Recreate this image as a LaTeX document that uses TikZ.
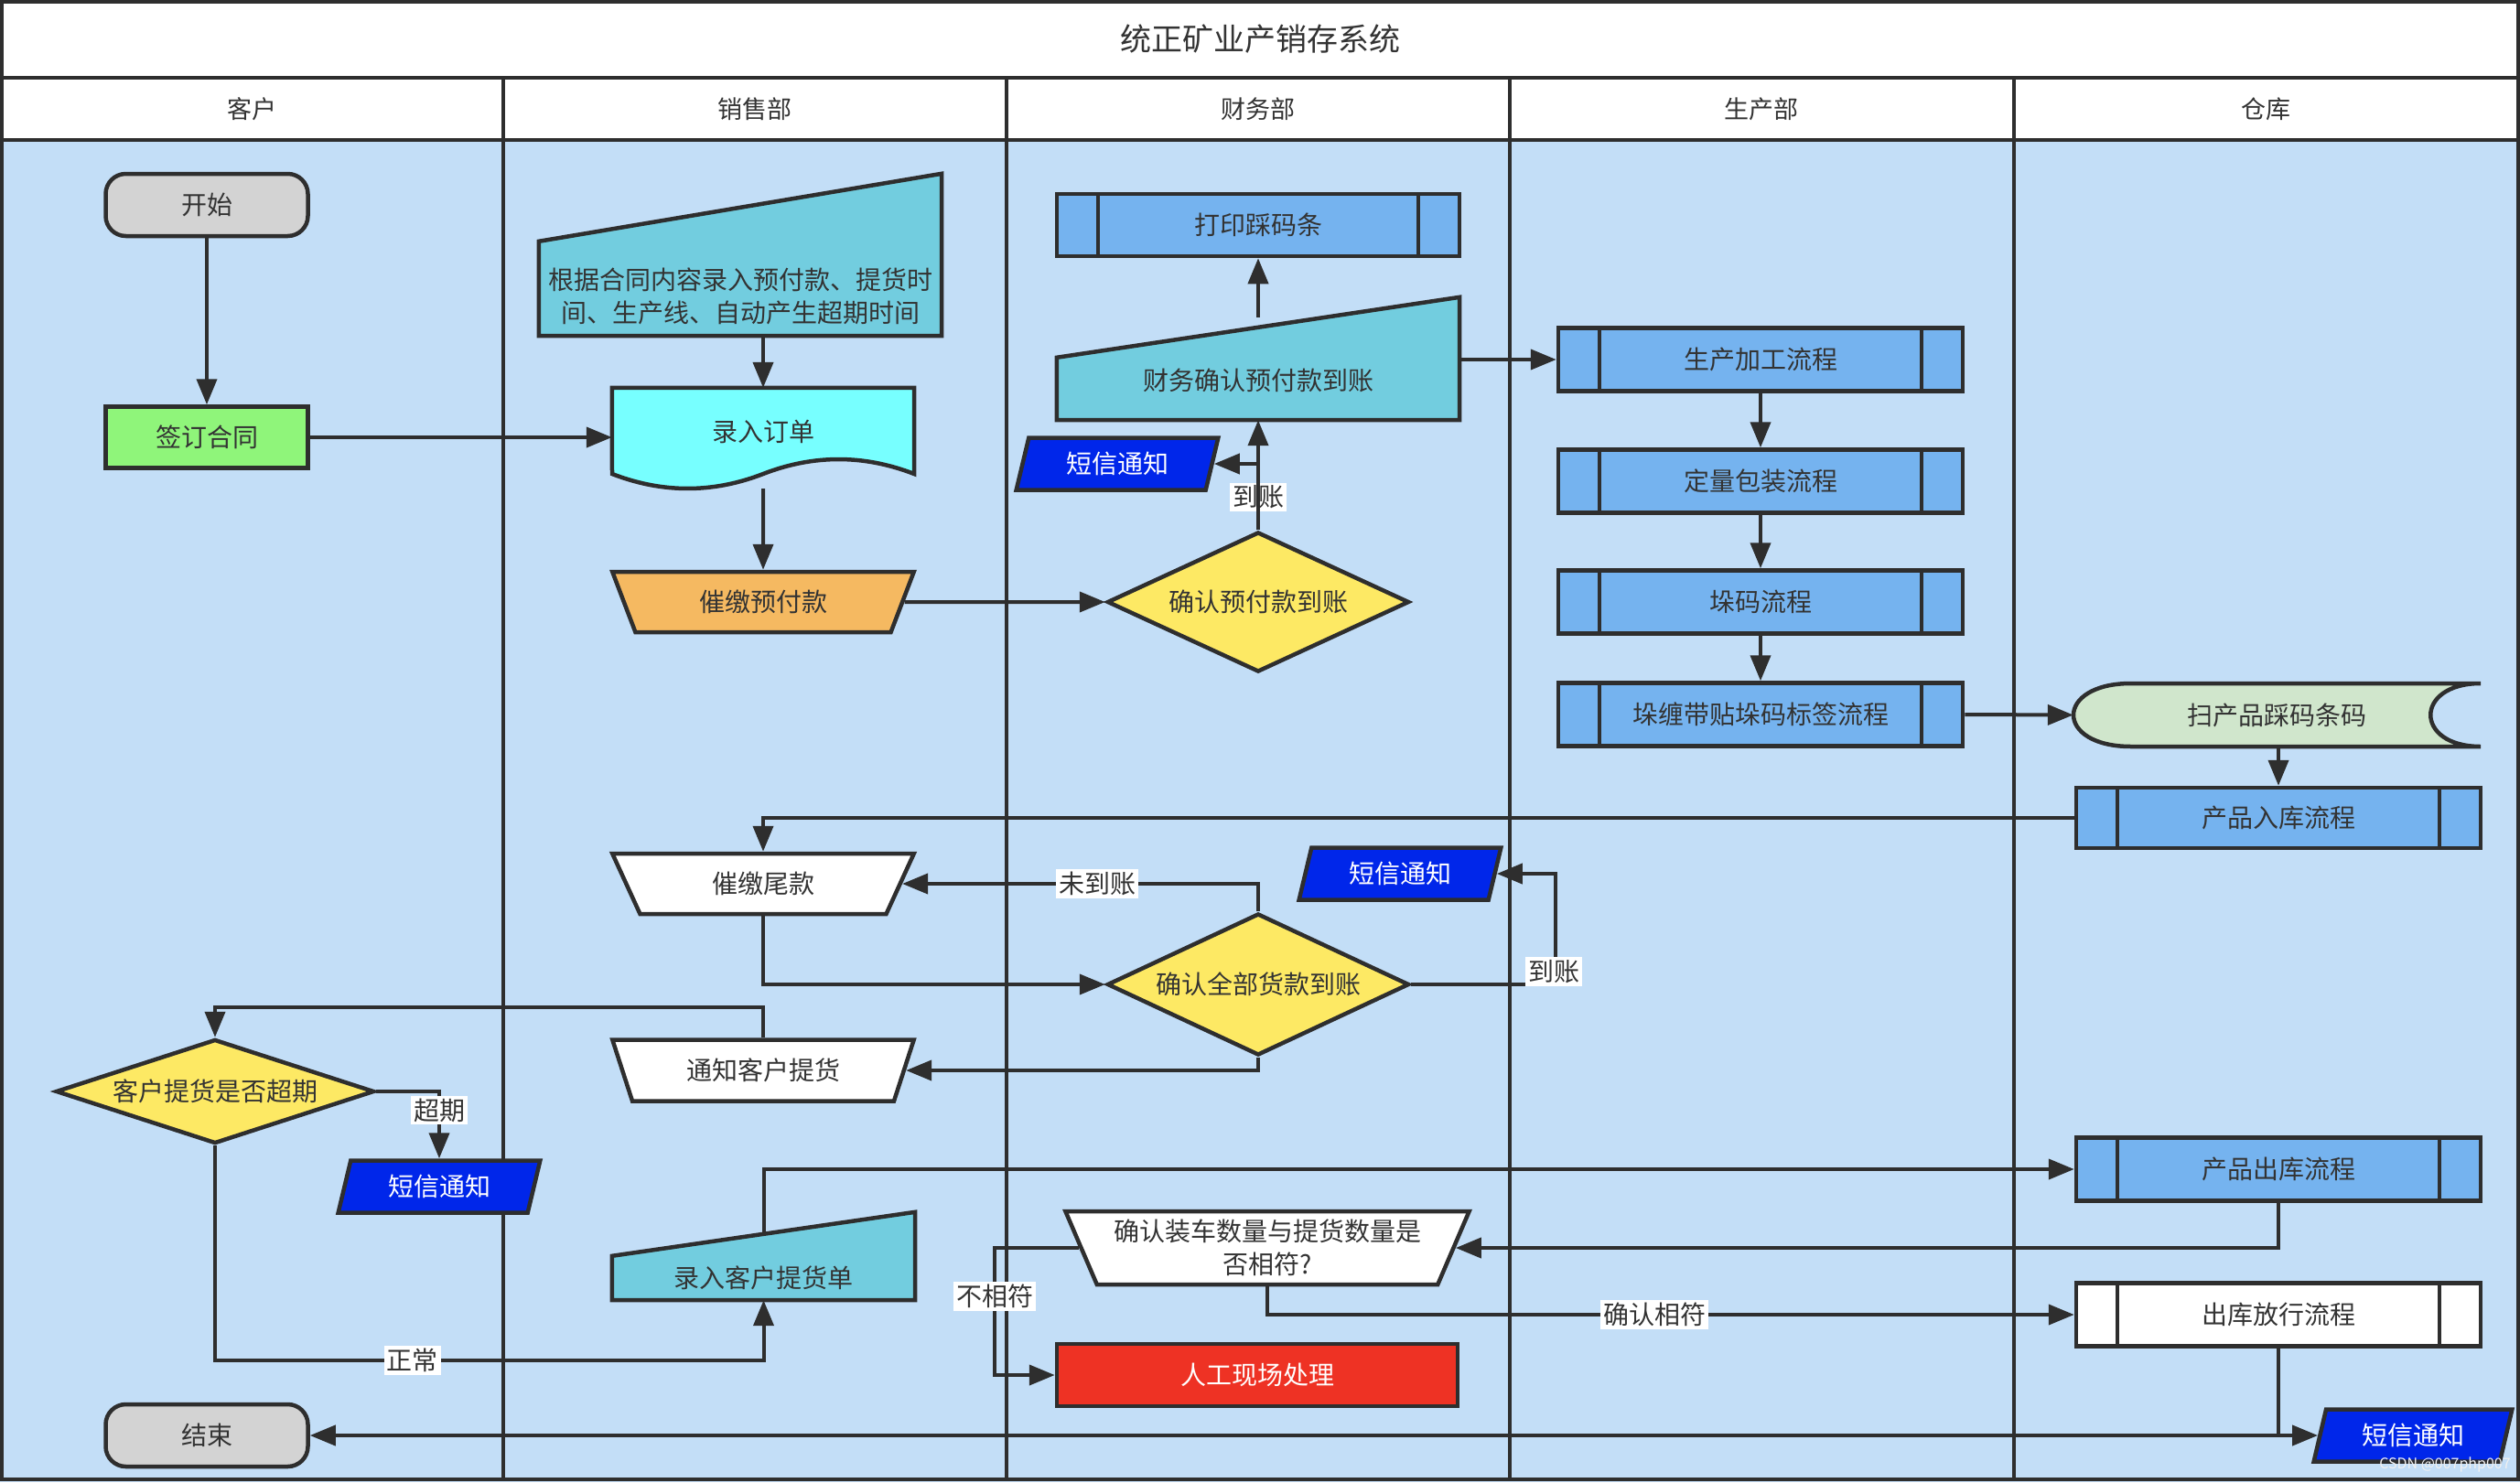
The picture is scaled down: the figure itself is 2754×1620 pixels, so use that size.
\documentclass[tikz,border=0pt]{standalone}
\usepackage{fontspec}
\setmainfont{Noto Sans CJK SC}
\usetikzlibrary{arrows.meta,shapes.geometric,calc}
\definecolor{lanebg}{HTML}{C3DEF7}
\definecolor{linec}{HTML}{2E2E2E}
\definecolor{txt}{HTML}{333333}
\definecolor{gray1}{HTML}{D3D3D3}
\definecolor{green1}{HTML}{8FF57A}
\definecolor{teal1}{HTML}{72CDDF}
\definecolor{cyan1}{HTML}{77FFFF}
\definecolor{orange1}{HTML}{F5B961}
\definecolor{blue1}{HTML}{75B3EF}
\definecolor{yellow1}{HTML}{FDE964}
\definecolor{smsblue}{HTML}{0026EA}
\definecolor{red1}{HTML}{EE3224}
\definecolor{store}{HTML}{D0E6CC}
\pgfdeclarelayer{bg}
\pgfdeclarelayer{shp}
\pgfsetlayers{bg,shp,main}
\begin{document}
\begin{tikzpicture}[x=1pt,y=-1pt,
  every node/.style={font=\fontsize{28}{36}\selectfont, text=txt, inner sep=0pt},
  base/.style={draw=linec, line width=4.5pt},
  term/.style={base, fill=gray1, rounded corners=22pt, minimum width=221pt, minimum height=68pt},
  proc/.style={base, minimum width=221pt, minimum height=67pt},
  pre/.style={base, fill=blue1, minimum width=442pt, minimum height=69pt,
    path picture={\draw[draw=linec, line width=4.5pt]
      ([xshift=45pt]path picture bounding box.north west) -- ([xshift=45pt]path picture bounding box.south west)
      ([xshift=-45pt]path picture bounding box.north east) -- ([xshift=-45pt]path picture bounding box.south east);}},
  dec/.style={base, diamond, fill=yellow1},
  trap/.style={base, trapezium, trapezium stretches=true, shape border rotate=180,
    trapezium left angle=64, trapezium right angle=64, minimum width=330pt, minimum height=66pt, fill=white},
  para/.style={base, trapezium, trapezium stretches=true, trapezium left angle=73, trapezium right angle=107,
    fill=smsblue, text=white, minimum width=221pt, minimum height=57pt},
  arr/.style={draw=linec, line width=4pt, -{Triangle[length=28pt,width=22pt]}},
  lbl/.style={fill=white, inner sep=3pt, text=txt}
]
\useasboundingbox (0,0) rectangle (2754,1620);
\begin{pgfonlayer}{bg}
  \fill[lanebg] (0,153) rectangle (2754,1620);
  \fill[white] (0,0) rectangle (2754,153);
  \draw[linec, line width=4pt] (2,85) -- (2752,85) (2,153) -- (2752,153);
  \draw[linec, line width=3.5pt] (550,85) -- (550,1618) (1100,85) -- (1100,1618)
    (1650,85) -- (1650,1618) (2201,85) -- (2201,1618);
  \draw[linec, line width=4pt] (2,2) rectangle (2752,1617);
\end{pgfonlayer}

% title and lane headers
\node[font=\fontsize{34}{40}\selectfont] (title) at (1377,43) {统正矿业产销存系统};
\node[font=\fontsize{27}{32}\selectfont] (h1) at (275,119) {客户};
\node[font=\fontsize{27}{32}\selectfont] (h2) at (825,119) {销售部};
\node[font=\fontsize{27}{32}\selectfont] (h3) at (1375,119) {财务部};
\node[font=\fontsize{27}{32}\selectfont] (h4) at (1925,119) {生产部};
\node[font=\fontsize{27}{32}\selectfont] (h5) at (2476,119) {仓库};

% lane 1
\node[term] (start) at (226,224) {开始};
\node[proc, fill=green1] (contract) at (226,478) {签订合同};
\node[dec, aspect=3.05, minimum width=348pt, minimum height=114pt] (check) at (235,1193) {客户提货是否超期};
\node[para] (sms1) at (480,1297) {短信通知};
\node[term] (end) at (226,1569) {结束};

% lane 2
\node[minimum width=440pt, minimum height=86pt, align=center] (plan) at (809,324) {根据合同内容录入预付款、提货时\\间、生产线、自动产生超期时间};
\node[minimum width=330pt, minimum height=96pt] (order) at (834,472) {录入订单};
\node[trap, fill=orange1] (dep) at (834,658) {催缴预付款};
\node[trap] (deptail) at (834,966) {催缴尾款};
\node[trap, minimum height=67pt] (notify) at (834,1170) {通知客户提货};
\node[minimum width=331pt, minimum height=48pt] (record) at (834.5,1397) {录入客户提货单};

% lane 3
\node[pre, minimum width=440pt, minimum height=68pt] (print) at (1375,246) {打印踩码条};
\node[minimum width=440pt, minimum height=86pt] (fin) at (1375,416) {财务确认预付款到账};
\node[para] (sms2) at (1221,507) {短信通知};
\node[dec, aspect=2.15, minimum width=330pt, minimum height=153pt] (dia1) at (1375,658) {确认预付款到账};
\node[para] (sms3) at (1530,955) {短信通知};
\node[dec, aspect=2.15, minimum width=330pt, minimum height=155pt] (dia2) at (1375,1076) {确认全部货款到账};
\node[trap, minimum width=443pt, minimum height=80pt, trapezium left angle=63.4, trapezium right angle=63.4, align=center] (verify) at (1385,1364) {确认装车数量与提货数量是\\否相符?};
\node[base, fill=red1, text=white, minimum width=438pt, minimum height=68pt] (manual) at (1374,1503) {人工现场处理};

% lane 4
\node[pre] (p1) at (1924,393) {生产加工流程};
\node[pre] (p2) at (1924,526) {定量包装流程};
\node[pre] (p3) at (1924,658) {垛码流程};
\node[pre] (p4) at (1924,781) {垛缠带贴垛码标签流程};

% lane 5
\node[minimum width=445pt, minimum height=69pt] (scan) at (2488.5,781.5) {扫产品踩码条码};
\node[pre, minimum height=66pt] (in) at (2490,894) {产品入库流程};
\node[pre] (out) at (2490,1278) {产品出库流程};
\node[pre, fill=white] (rel) at (2490,1437) {出库放行流程};
\node[para, minimum width=217pt] (sms4) at (2637,1569) {短信通知};
\node[font=\fontsize{16}{18}\selectfont, text=white!88!gray] (wm) at (2672,1601) {CSDN @007php007};

% custom outlines
\begin{pgfonlayer}{shp}
  \draw[base, fill=teal1] (plan.south west) -- ([yshift=17pt]plan.north west) -- ([yshift=91pt]plan.north east) -- (plan.south east) -- cycle;
  \draw[base, fill=teal1] (fin.south west) -- ([yshift=-18pt]fin.north west) -- ([yshift=48pt]fin.north east) -- (fin.south east) -- cycle;
  \draw[base, fill=teal1] (record.south west) -- (record.north west) -- ([yshift=48pt]record.north east) -- (record.south east) -- cycle;
  \draw[base, fill=cyan1] (order.north west) -- (order.north east) -- (999,518)
    .. controls (944,496.7) and (889,496.7) .. (834,518)
    .. controls (779,539.3) and (724,539.3) .. (669,518) -- cycle;
  \draw[base, fill=store] (2329,747) -- (2711,747) .. controls (2638,747) and (2638,816) .. (2711,816)
    -- (2329,816) .. controls (2245,816) and (2245,747) .. (2329,747) -- cycle;
\end{pgfonlayer}

% connectors
\draw[arr] (start) -- (contract);
\draw[arr] (contract.east) -- (contract.east -| order.west);
\draw[arr] (plan.south -| order.north) -- (order.north);
\draw[arr, shorten <=14pt] (order.south) -- (dep.north);
\draw[arr] (dep.east) -- (dia1.west);
\draw[arr] (dia1.north) -- node[lbl, pos=0.3] (l1) {到账} (fin.south);
\draw[arr] (dia1.north) |- (sms2.east);
\draw[arr] ([yshift=26pt]fin.north) -- (print.south);
\draw[arr] (fin.east |- p1.west) -- (p1.west);
\draw[arr] (p1) -- (p2);
\draw[arr] (p2) -- (p3);
\draw[arr] (p3) -- (p4);
\draw[arr] (p4.east) -- (scan.west);
\draw[arr] (scan.south -| in.north) -- (in.north);
\draw[arr] (in.west) -| (deptail.north);
\draw[arr] (deptail.south) |- (dia2.west);
\draw[arr] (dia2.north) |- node[lbl, pos=0.726] (l2) {未到账} (deptail.east);
\draw[arr] (dia2.east) -- ++(158,0) |- (sms3.east);
\node[lbl] (l3) at (1698,1062) {到账};
\draw[arr] (dia2.south) |- (notify.east);
\draw[arr] (notify.north) -- ++(0,-33) -| (check.north);
\draw[arr] (check.east) -| node[lbl, pos=0.64] (l4) {超期} (sms1.north);
\draw[arr] (check.south) -- ++(0,235) -| node[lbl, pos=0.18] (l5) {正常} (record.south);
\draw[arr] ([yshift=24pt]record.north) |- (out.west);
\draw[arr] (out.south) |- (verify.east);
\draw[arr] (verify.south) |- node[lbl, pos=0.74] (l6) {确认相符} (rel.west);
\draw[arr] (verify.west) -- ++(-92,0) |- node[lbl, pos=0.19] (l7) {不相符} (manual.west);
\draw[arr] (rel.south) |- (sms4.west);
\draw[arr] (rel.south) |- (end.east);
\end{tikzpicture}
\end{document}
